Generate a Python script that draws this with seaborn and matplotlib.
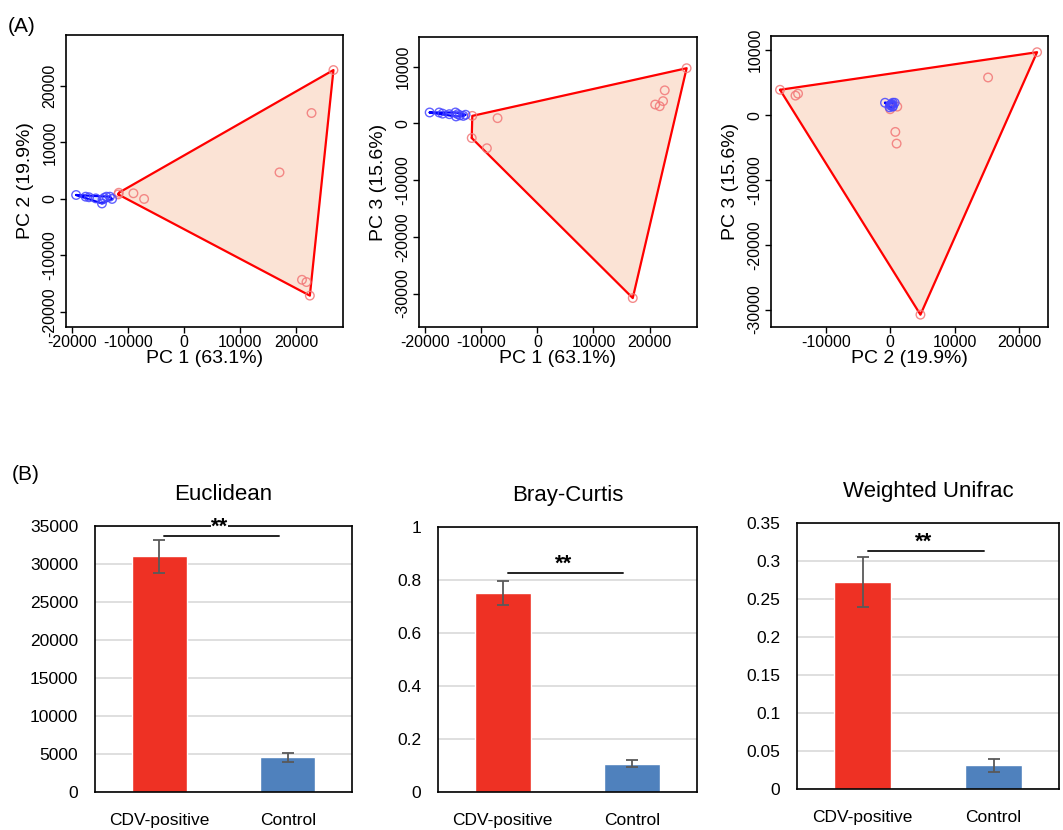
import numpy as np
import pandas as pd
import matplotlib
matplotlib.use("Agg")
import matplotlib.pyplot as plt
import seaborn as sns

sns.set_theme(style="white")
plt.rcParams['font.family'] = ['Liberation Sans', 'DejaVu Sans']

# ── PCA scores ──────────────────────────────────────────────
pos_pc1 = [26600, 22700, 17000, -9000, -7100, -11600, -11700, 21000, 21800, 22400]
pos_pc2 = [22800, 15200, 4700, 1000, 0, 1100, 800, -14300, -14700, -17100]
pos_pc3 = [9700, 5800, -30800, -4400, 900, 1300, -2600, 3300, 3000, 3900]

ctl_pc1 = [-19200, -17500, -16900, -15700, -14600, -14500, -13800, -13200, -12800, -14200]
ctl_pc2 = [700, 400, 300, 100, -800, -100, 400, 400, 0, 200]
ctl_pc3 = [1900, 1900, 1700, 1600, 1900, 1200, 1400, 1300, 1500, 1600]

pc_labels = {'PC1': 'PC 1 (63.1%)', 'PC2': 'PC 2 (19.9%)', 'PC3': 'PC 3 (15.6%)'}

# ── distance bars ───────────────────────────────────────────
groups = ['CDV-positive', 'Control']
euclid_mean = [31000, 4550]
euclid_err = [2150, 620]
bray_mean = [0.752, 0.107]
bray_err = [0.045, 0.012]
unifrac_mean = [0.272, 0.031]
unifrac_err = [0.033, 0.008]

pca = pd.DataFrame({
    'PC1': pos_pc1 + ctl_pc1,
    'PC2': pos_pc2 + ctl_pc2,
    'PC3': pos_pc3 + ctl_pc3,
    'group': ['CDV-positive'] * len(pos_pc1) + ['Control'] * len(ctl_pc1),
})

W, H = 1063, 830
fig = plt.figure(figsize=(W / 100, H / 100), dpi=100)


def box(x0, y0, x1, y1):
    return [x0 / W, 1 - y1 / H, (x1 - x0) / W, (y1 - y0) / H]


def hull(pts):
    # monotone chain convex hull
    pts = sorted(set(pts))
    lower, upper = [], []
    for p in pts:
        while len(lower) >= 2 and np.cross(np.subtract(lower[-1], lower[-2]), np.subtract(p, lower[-2])) <= 0:
            lower.pop()
        lower.append(p)
    for p in reversed(pts):
        while len(upper) >= 2 and np.cross(np.subtract(upper[-1], upper[-2]), np.subtract(p, upper[-2])) <= 0:
            upper.pop()
        upper.append(p)
    return np.array(lower[:-1] + upper[:-1])


STYLE = {
    'CDV-positive': dict(edge='#ff0000', fill='#fbe3d5', pt='#f27777'),
    'Control': dict(edge='#0000ff', fill='#dde3ff', pt='#4646ff'),
}

pca_panels = [
    ('PC1', 'PC2', box(66, 35, 343, 327), (-21000, 28300), (-22650, 29000),
     [-20000, -10000, 0, 10000, 20000], [-20000, -10000, 0, 10000, 20000]),
    ('PC1', 'PC3', box(419, 37, 697, 327), (-21100, 28450), (-35900, 15200),
     [-20000, -10000, 0, 10000, 20000], [-30000, -20000, -10000, 0, 10000]),
    ('PC2', 'PC3', box(771, 36, 1048, 327), (-18500, 24500), (-32700, 12200),
     [-10000, 0, 10000, 20000], [-30000, -20000, -10000, 0, 10000]),
]

for xc, yc, rect, xl, yl, xt, yt in pca_panels:
    ax = fig.add_axes(rect)
    for g in ['CDV-positive', 'Control']:
        sub = pca[pca['group'] == g]
        h = hull(list(zip(sub[xc], sub[yc])))
        ax.fill(h[:, 0], h[:, 1], color=STYLE[g]['fill'], zorder=1)
        closed = np.vstack([h, h[:1]])
        ax.plot(closed[:, 0], closed[:, 1], color=STYLE[g]['edge'], lw=1.6, zorder=2)
    for g in ['CDV-positive', 'Control']:
        sub = pca[pca['group'] == g]
        sns.scatterplot(data=sub, x=xc, y=yc, ax=ax, s=38, legend=False, zorder=3)
        pts = ax.collections[-1]
        pts.set_facecolor('none')
        pts.set_edgecolor(STYLE[g]['pt'])
        pts.set_linewidth(1.0)
        pts.set_alpha(0.85)
    ax.set_xlim(*xl)
    ax.set_ylim(*yl)
    ax.set_xticks(xt)
    ax.set_yticks(yt)
    ax.set_xticklabels([str(v) for v in xt])
    ax.set_yticklabels([str(v) for v in yt], rotation=90, va='center')
    ax.tick_params(axis='both', length=4, width=1, color='black', direction='out',
                   labelsize=11.5, labelcolor='black', pad=2)
    ax.tick_params(bottom=True, left=True)
    ax.set_xlabel(pc_labels[xc], fontsize=14, color='black', labelpad=0)
    ax.set_ylabel(pc_labels[yc], fontsize=14, color='black', labelpad=6)
    for sp in ax.spines.values():
        sp.set_color('black')
        sp.set_linewidth(1.2)

# ── (B) bar panels ──────────────────────────────────────────
bar_panels = [
    ('Euclidean', euclid_mean, euclid_err, box(95, 526, 352, 792), 35000, 5000, 33700, '{:.0f}'),
    ('Bray-Curtis', bray_mean, bray_err, box(438, 527, 697, 792), 1.0, 0.2, 0.826, None),
    ('Weighted Unifrac', unifrac_mean, unifrac_err, box(797, 523, 1059, 789), 0.35, 0.05, 0.3135, None),
]

for title, means, errs, rect, ymax, step, sig_y, fmt in bar_panels:
    ax = fig.add_axes(rect)
    df = pd.DataFrame({'group': groups, 'value': means})
    sns.barplot(data=df, x='group', y='value', hue='group',
                palette=['#ee3124', '#4f81bd'], width=0.43, errorbar=None,
                legend=False, ax=ax, zorder=2, saturation=1)
    ax.errorbar(range(len(means)), means, yerr=errs, fmt='none',
                ecolor='#595959', elinewidth=1.3, capsize=4, capthick=1.3, zorder=3)
    ticks = np.arange(0, ymax + step / 2, step)
    ax.set_ylim(0, ymax)
    ax.set_xlim(-0.5, 1.5)
    ax.set_yticks(ticks)
    if fmt:
        ax.set_yticklabels([fmt.format(t) for t in ticks])
    else:
        ax.set_yticklabels(['{:g}'.format(round(t, 2)) for t in ticks])
    ax.yaxis.grid(True, color='#d9d9d9', lw=1.2, zorder=0)
    ax.set_axisbelow(True)
    ax.tick_params(axis='y', length=0, labelsize=12.5, labelcolor='black', pad=12)
    ax.tick_params(axis='x', length=0, labelsize=12.5, labelcolor='black', pad=15)
    ax.set_xlabel('')
    ax.set_ylabel('')
    ax.set_title(title, fontsize=16, color='black', pad=19)
    for sp in ax.spines.values():
        sp.set_color('black')
        sp.set_linewidth(1.2)
    ax.plot([0.04, 0.93], [sig_y, sig_y], color='#222222', lw=1.4, zorder=4, clip_on=False)
    # asterisks sit just above the bracket; white box breaks the frame where they cross it
    ax.annotate('**', xy=(0.47, sig_y), xytext=(0, 2.5), textcoords='offset points',
                ha='center', va='baseline', fontsize=16, fontweight='bold', color='black',
                zorder=3, annotation_clip=False,
                bbox=dict(facecolor='white', edgecolor='none', pad=0))

fig.text(8 / W, 1 - 32 / H, '(A)', fontsize=15, color='black')
fig.text(12 / W, 1 - 480 / H, '(B)', fontsize=15, color='black')

fig.savefig('out.png', dpi=100)
